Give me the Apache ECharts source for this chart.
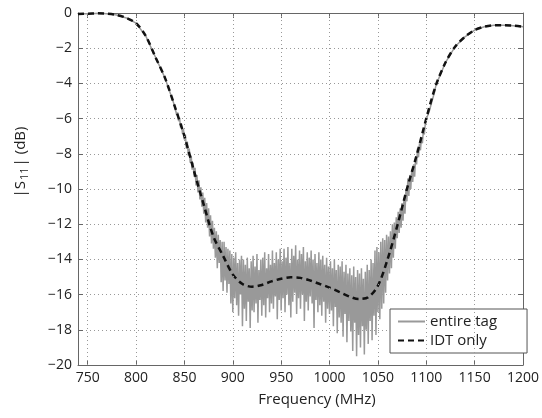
<!DOCTYPE html>
<html><head><meta charset="utf-8">
<script src="https://cdn.jsdelivr.net/npm/echarts@6/dist/echarts.min.js"></script>
<style>html,body{margin:0;padding:0;background:#fff}#c{width:542px;height:418px}</style>
</head><body><div id="c"></div>
<script>
// IDT only (smooth), 10 MHz steps
var idtFreq = [740,750,760,770,780,790,800,810,820,830,840,850,860,870,880,890,900,910,920,930,940,950,960,970,980,990,1000,1010,1020,1030,1040,1050,1060,1070,1080,1090,1100,1110,1120,1130,1140,1150,1160,1170,1180,1190,1200];
var idtVals = [-0.06,-0.04,-0.02,-0.04,-0.11,-0.28,-0.58,-1.3,-2.5,-3.7,-5.3,-7.0,-9.0,-10.9,-12.7,-13.8,-14.85,-15.4,-15.55,-15.45,-15.25,-15.1,-15.02,-15.05,-15.2,-15.4,-15.6,-15.85,-16.1,-16.25,-16.15,-15.5,-14.0,-12.1,-10.0,-8.1,-6.0,-4.1,-2.8,-1.9,-1.35,-0.97,-0.78,-0.7,-0.7,-0.72,-0.78];

// entire tag: smooth left part
var tagLeftFreq = [740,750,760,770,780,790,800,810,820,830,840];
var tagLeftVals = [-0.06,-0.04,-0.02,-0.04,-0.11,-0.28,-0.58,-1.3,-2.5,-3.7,-5.3];
// entire tag: noisy middle part, 1 MHz steps from 841 to 1110
var tagMidStart = 841;
var tagMidVals = [
-5.3,-5.8,-5.65,-6.15,-5.95,-6.5,-6.3,-6.85,-6.6,-7.2,
-6.9,-7.7,-7.3,-8.1,-7.7,-8.5,-8.1,-8.9,-8.5,-9.3,
-8.8,-9.8,-9.2,-10.2,-9.5,-10.6,-9.9,-11.0,-10.2,-11.4,
-10.5,-11.9,-10.8,-12.2,-11.1,-12.7,-11.5,-13.1,-11.8,-13.4,
-12.2,-13.9,-12.4,-14.5,-12.6,-14.2,-12.9,-15.3,-13.0,-15.8,
-13.0,-15.2,-13.3,-15.9,-13.4,-15.4,-13.5,-16.5,-13.7,-17.0,
-13.9,-16.2,-13.6,-16.6,-14.2,-17.2,-14.0,-16.0,-13.8,-17.8,
-14.0,-16.8,-14.3,-17.5,-13.9,-16.4,-14.5,-17.9,-14.1,-16.9,
-13.8,-17.0,-14.4,-16.5,-13.7,-17.6,-14.6,-16.3,-14.0,-17.2,
-13.9,-16.6,-13.6,-17.3,-14.5,-16.2,-13.7,-17.0,-14.3,-16.5,
-13.5,-16.8,-14.2,-16.1,-13.6,-17.4,-14.0,-16.3,-13.4,-16.9,
-14.1,-16.2,-13.4,-17.0,-13.9,-16.0,-13.3,-16.6,-14.2,-17.3,
-13.4,-16.4,-13.8,-15.9,-13.2,-17.1,-14.0,-16.2,-13.5,-16.8,
-13.7,-16.0,-13.3,-17.5,-14.1,-16.4,-13.6,-16.9,-13.9,-16.1,
-13.5,-16.5,-14.0,-17.9,-13.7,-16.3,-14.2,-17.0,-13.6,-16.6,
-14.0,-17.2,-13.8,-16.4,-14.3,-17.6,-13.9,-16.8,-14.4,-17.1,
-14.1,-16.9,-14.5,-17.8,-14.0,-16.7,-14.6,-18.2,-14.3,-17.3,
-14.4,-17.6,-14.1,-18.4,-14.7,-17.1,-14.3,-18.7,-14.8,-17.5,
-14.5,-18.1,-14.9,-19.2,-14.4,-17.6,-15.0,-19.5,-14.6,-18.3,
-14.8,-19.0,-14.5,-17.8,-15.1,-19.4,-14.7,-18.0,-14.3,-18.8,
-14.6,-17.5,-14.0,-18.6,-14.2,-17.2,-13.5,-18.3,-13.3,-17.0,
-13.6,-17.4,-13.0,-16.8,-12.8,-16.5,-12.9,-15.9,-12.6,-15.2,
-12.7,-14.8,-12.4,-14.5,-12.0,-13.9,-11.9,-13.4,-11.6,-12.8,
-11.3,-12.5,-11.1,-12.2,-10.8,-11.8,-10.5,-11.4,-10.0,-10.7,
-9.4,-10.4,-9.2,-10.0,-8.9,-9.6,-8.6,-9.3,-8.2,-8.6,
-7.7,-8.2,-7.4,-7.8,-7.1,-7.4,-6.7,-6.9,-6.3,-6.2,
-5.9,-6.0,-5.6,-5.6,-5.2,-5.2,-4.8,-4.7,-4.4,-4.1
];
// entire tag: smooth right part
var tagRightFreq = [1120,1130,1140,1150,1160,1170,1180,1190,1200];
var tagRightVals = [-2.8,-1.9,-1.35,-0.97,-0.78,-0.7,-0.7,-0.72,-0.78];

var xTicks = [750,800,850,900,950,1000,1050,1100,1150,1200];
var xGrid = [750,800,850,900,950,1000,1050,1100,1150];

var idtData = idtFreq.map(function(f,i){return [f, idtVals[i]];});
var tagData = [];
tagLeftFreq.forEach(function(f,i){tagData.push([f, tagLeftVals[i]]);});
tagMidVals.forEach(function(v,i){tagData.push([tagMidStart+i, v]);});
tagRightFreq.forEach(function(f,i){tagData.push([f, tagRightVals[i]]);});

var FONT = 'Open Sans';
var TXT = '#222';
var chart = echarts.init(document.getElementById('c'), null, {renderer:'canvas'});
chart.setOption({
  animation:false,
  backgroundColor:'#fff',
  textStyle:{fontFamily:FONT},
  grid:{left:78, right:16, top:13, bottom:53, containLabel:false},
  xAxis:[{
    type:'value', min:740, max:1200, position:'bottom',
    axisLine:{show:true, onZero:false, lineStyle:{color:'#666', width:1}},
    axisTick:{show:true, inside:true, length:5, customValues:xTicks, lineStyle:{color:'#666'}},
    axisLabel:{customValues:xTicks, fontSize:14, color:TXT, margin:6, fontFamily:FONT,
      formatter:function(v){return String(v);}},
    splitLine:{show:false}
  },{
    type:'value', min:740, max:1200, position:'top',
    axisLine:{show:true, onZero:false, lineStyle:{color:'#666', width:1}},
    axisTick:{show:true, inside:true, length:5, customValues:xTicks, lineStyle:{color:'#666'}},
    axisLabel:{show:false},
    splitLine:{show:false}
  }],
  yAxis:[{
    type:'value', min:-20, max:0, interval:2, position:'left',
    axisLine:{show:true, onZero:false, lineStyle:{color:'#666', width:1}},
    axisTick:{show:true, inside:true, length:5, lineStyle:{color:'#666'}},
    axisLabel:{fontSize:14, color:TXT, margin:6, fontFamily:FONT,
      formatter:function(v){return v<0 ? '\u2212'+Math.abs(v) : String(v);}},
    splitLine:{show:true, lineStyle:{color:'#999', width:1, type:[1,3]}}
  },{
    type:'value', min:-20, max:0, interval:2, position:'right',
    axisLine:{show:true, onZero:false, lineStyle:{color:'#666', width:1}},
    axisTick:{show:true, inside:true, length:5, lineStyle:{color:'#666'}},
    axisLabel:{show:false},
    splitLine:{show:false}
  }],
  legend:{
    orient:'vertical', left:390, top:309, width:128,
    backgroundColor:'#fff', borderColor:'#555', borderWidth:1, borderRadius:0,
    padding:[5,30,5,7], itemWidth:27, itemHeight:14, itemGap:4,
    itemStyle:{opacity:0},
    textStyle:{fontSize:15, color:TXT, fontFamily:FONT},
    data:[{name:'entire tag'},{name:'IDT only'}]
  },
  graphic:[
    {type:'text', x:21, y:162, rotation:Math.PI/2, style:{
      text:'|S{sub|11}| (dB)', fontSize:15, fill:TXT, fontFamily:FONT, align:'center', verticalAlign:'middle',
      rich:{sub:{fontSize:11, fill:TXT, fontFamily:FONT, padding:[8,1,0,1]}}
    }},
    {type:'text', x:317, y:400, style:{text:'Frequency (MHz)', fontSize:15, fill:TXT, fontFamily:FONT, align:'center', verticalAlign:'middle'}}
  ],
  series:[
    {name:'grid', type:'line', data:[], xAxisIndex:0, yAxisIndex:0, silent:true,
      markLine:{symbol:'none', silent:true, label:{show:false},
        lineStyle:{color:'#999', width:1, type:[1,3]},
        data:xGrid.map(function(v){return {xAxis:v};})}},
    {name:'entire tag', type:'line', data:tagData, showSymbol:false, symbol:'none',
      lineStyle:{color:'#999999', width:1.5}, itemStyle:{color:'#999999'}, z:3},
    {name:'IDT only', type:'line', data:idtData, showSymbol:false, symbol:'none', smooth:0.3,
      lineStyle:{color:'#111', width:2.5, type:[6,4]}, itemStyle:{color:'#111'}, z:4}
  ]
});
</script></body></html>
